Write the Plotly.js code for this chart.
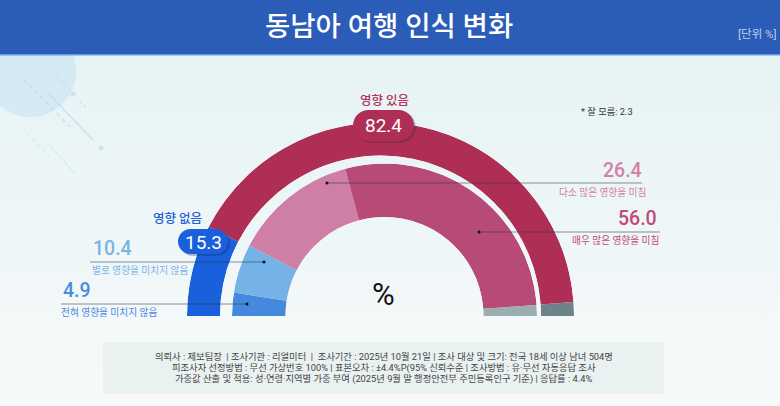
<!DOCTYPE html>
<html>
<head>
<meta charset="utf-8">
<script src="https://cdn.plot.ly/plotly-3.0.1.min.js"></script>
<style>
html,body{margin:0;padding:0;width:780px;height:406px;overflow:hidden;background:linear-gradient(180deg,#e3f2f4 0%,#eef6f7 55%,#f8fafa 100%);}
#chart{width:780px;height:406px;}
</style>
</head>
<body>
<div id="chart"></div>
<script>
var outerValues = [15.3, 82.4, 2.3];
var outerColors = ['#1a5fdc', '#ae2e56', '#6e8289'];
var innerValues = [4.9, 10.4, 26.4, 56.0, 2.3];
var innerColors = ['#4589de', '#74b2e8', '#cf7ea6', '#b84a78', '#9aadb0'];
var footerLines = [
    '의뢰사 : 제보팀장  | 조사기관 : 리얼미터  |  조사기간 : 2025년 10월 21일 | 조사 대상 및 크기: 전국 18세 이상 남녀 504명',
    '피조사자 선정방법 : 무선 가상번호 100% | 표본오차 : ±4.4%P(95% 신뢰수준 | 조사방법 : 유·무선 자동응답 조사',
    '가중값 산출 및 적용: 성·연령·지역별 가중 부여 (2025년 9월 말 행정안전부 주민등록인구 기준) | 응답률 : 4.4%'
];

var W = 780, H = 406;
var fontFam = 'Roboto, "Noto Sans CJK KR", sans-serif';
function px(x){ return x / W; }
function py(y){ return 1 - y / H; }

// half ring: 100% of the values spans 180 degrees
function ringTrace(values, colors, subplot){
    var theta = [], width = [], cum = 0;
    values.forEach(function(v){
        theta.push((cum + v / 2) * 1.8);
        width.push(v * 1.8);
        cum += v;
    });
    return {
        type:'barpolar',
        subplot:subplot,
        r:values.map(function(){ return 1; }),
        theta:theta,
        width:width,
        marker:{color:colors, line:{width:0}},
        hoverinfo:'skip'
    };
}
function polarLayout(cx, cy, R, r){
    return {
        domain:{x:[px(cx - R), px(cx + R)], y:[py(cy), py(cy - R)]},
        sector:[0, 180],
        hole:r / R,
        bgcolor:'rgba(0,0,0,0)',
        radialaxis:{visible:false, range:[0, 1]},
        angularaxis:{visible:false, direction:'clockwise', rotation:180}
    };
}
// rounded label box, plotly shape paths have no arc command so the ends are beziers
function pill(x0, y0, x1, y1, color){
    var r = (y1 - y0) / 2, k = r * 0.5523;
    var pt = function(x, y){ return px(x) + ',' + py(y); };
    var ym = y0 + r;
    var d = 'M' + pt(x0 + r, y0) + ' L' + pt(x1 - r, y0) +
        ' C' + pt(x1 - r + k, y0) + ' ' + pt(x1, ym - k) + ' ' + pt(x1, ym) +
        ' C' + pt(x1, ym + k) + ' ' + pt(x1 - r + k, y1) + ' ' + pt(x1 - r, y1) +
        ' L' + pt(x0 + r, y1) +
        ' C' + pt(x0 + r - k, y1) + ' ' + pt(x0, ym + k) + ' ' + pt(x0, ym) +
        ' C' + pt(x0, ym - k) + ' ' + pt(x0 + r - k, y0) + ' ' + pt(x0 + r, y0) + ' Z';
    return {type:'path', xref:'paper', yref:'paper', path:d, fillcolor:color, line:{width:0}, layer:'above'};
}
function rect(x0, y0, x1, y1, color, layer){
    return {type:'rect', xref:'paper', yref:'paper', x0:px(x0), x1:px(x1), y0:py(y0), y1:py(y1),
        fillcolor:color, line:{width:0}, layer:layer || 'below'};
}
function line(x0, y0, x1, y1, color, width, dash, layer){
    return {type:'line', xref:'paper', yref:'paper', x0:px(x0), x1:px(x1), y0:py(y0), y1:py(y1),
        line:{color:color, width:width, dash:dash || 'solid'}, layer:layer || 'above'};
}
function dot(x, y, r, color, layer){
    return {type:'circle', xref:'paper', yref:'paper', x0:px(x - r), x1:px(x + r), y0:py(y + r), y1:py(y - r),
        fillcolor:color, line:{width:0}, layer:layer || 'above'};
}
function label(text, x, y, size, color, anchor, weight){
    return {xref:'paper', yref:'paper', x:px(x), y:py(y), text:text, showarrow:false, xanchor:anchor || 'center', yanchor:'middle',
        font:{family:fontFam, size:size, color:color, weight:weight || 400}, borderpad:0, borderwidth:0};
}

var leaderColor = 'rgba(50,55,60,0.55)';
var decoColor = 'rgba(175,218,232,0.6)';
var shapes = [
    dot(30, 71, 46, 'rgba(195,224,241,0.5)', 'below'),
    line(53, 73, 67, 87, decoColor, 1, 'solid', 'below'),
    line(48, 93, 93, 140, decoColor, 1.5, 'solid', 'below'),
    line(23, 79, 70, 127, decoColor, 1.5, '4px,4px', 'below'),
    line(80, 101, 86, 107, decoColor, 1.5, '3px,3px', 'below'),
    line(23, 129, 50, 157, decoColor, 1, '3px,4px', 'below'),
    line(49, 145, 75, 173, decoColor, 1, 'solid', 'below'),
    dot(73, 94, 2.5, decoColor, 'below'),
    dot(101, 148, 2.5, decoColor, 'below'),
    rect(0, 0, 780, 54, '#2a5cb8'),
    rect(0, 54, 780, 55.5, '#5f9fe6'),
    rect(103, 342, 664, 394, '#e9f1f1'),
    pill(355, 112, 416, 143, 'rgba(70,40,60,0.3)'),
    pill(353, 110, 414, 141, '#ae2e56'),
    pill(180, 231, 230, 256, 'rgba(20,40,90,0.3)'),
    pill(178, 229, 228, 254, '#1a5fdc'),
    line(327, 183, 642, 183, leaderColor, 1),
    line(479, 232, 660, 232, leaderColor, 1),
    line(90, 262, 264, 262, leaderColor, 1),
    line(61, 304, 247, 304, leaderColor, 1),
    dot(327, 183, 1.5, '#111'),
    dot(479, 232, 1.5, '#111'),
    dot(264, 262, 1.5, '#111'),
    dot(247, 304, 1.5, '#111')
];

var annotations = [
    label('동남아 여행 인식 변화', 388.5, 27, 27.5, '#ffffff', 'center', 500),
    label('[단위 %]', 777, 34, 11.5, '#bcd0ea', 'right'),
    label('영향 있음', 384, 101, 12.5, '#b5305a', 'center', 500),
    label(outerValues[1].toFixed(1), 383.5, 125, 19, '#ffffff'),
    label('영향 없음', 177, 219, 12.5, '#1f5fd8', 'center', 500),
    label(outerValues[0].toFixed(1), 203, 242, 19, '#ffffff'),
    label('* 잘 모름: ' + outerValues[2], 581, 111, 9.3, '#333333', 'left'),
    label(innerValues[2].toFixed(1), 642, 170, 19.5, '#d67ea6', 'right', 500),
    label('다소 많은 영향을 미침', 646, 192, 9.7, '#d67ea6', 'right'),
    label(innerValues[3].toFixed(1), 657, 218, 19.5, '#c04a78', 'right', 500),
    label('매우 많은 영향을 미침', 659, 240, 9.7, '#c04a78', 'right'),
    label(innerValues[1].toFixed(1), 93, 248, 19.5, '#7ab4e6', 'left', 500),
    label('별로 영향을 미치지 않음', 92, 270, 9.7, '#7ab4e6', 'left'),
    label(innerValues[0].toFixed(1), 63, 290, 19.5, '#4a8ade', 'left', 500),
    label('전혀 영향을 미치지 않음', 61, 312, 9.7, '#4a8ade', 'left'),
    label('%', 383.5, 294, 31, '#111111')
];
footerLines.forEach(function(t, i){
    annotations.push(label(t.replace(/  /g, '&nbsp; '), 383.5, 356 + i * 11.6, 9.3, '#444444'));
});

var layout = {
    width:W,
    height:H,
    margin:{l:0, r:0, t:0, b:0},
    showlegend:false,
    paper_bgcolor:'rgba(0,0,0,0)',
    plot_bgcolor:'rgba(0,0,0,0)',
    polar:polarLayout(380.5, 316, 193.5, 160.5),
    polar2:polarLayout(384.5, 316, 152.5, 99),
    shapes:shapes,
    annotations:annotations
};

Plotly.newPlot('chart', [
    ringTrace(outerValues, outerColors, 'polar'),
    ringTrace(innerValues, innerColors, 'polar2')
], layout, {displayModeBar:false, staticPlot:true});
</script>
</body>
</html>
